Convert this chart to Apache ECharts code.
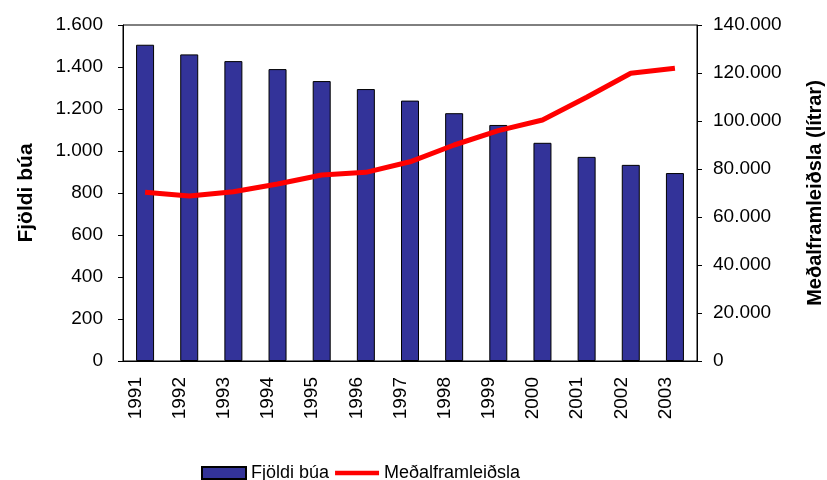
<!DOCTYPE html>
<html>
<head>
<meta charset="utf-8">
<script src="https://cdn.jsdelivr.net/npm/echarts@6/dist/echarts.min.js"></script>
<style>
  html, body { margin: 0; padding: 0; background: #fff; }
  #chart { width: 827px; height: 480px; }
</style>
</head>
<body>
<div id="chart"></div>
<script>
var years = ['1991', '1992', '1993', '1994', '1995', '1996', '1997', '1998', '1999', '2000', '2001', '2002', '2003'];
var fjoldiBua = [1506, 1460, 1428, 1390, 1333, 1295, 1240, 1180, 1124, 1039, 972, 934, 895];
var medalframleidsla = [70300, 68750, 70500, 73750, 77500, 78600, 83000, 90000, 96000, 100400, 109900, 119900, 122000];

// punktur sem þúsundaskil
function fmt(v) {
    return String(v).replace(/\B(?=(\d{3})+(?!\d))/g, '.');
}

var font = 'Liberation Sans, Arial, sans-serif';
var myChart = echarts.init(document.getElementById('chart'));

var option = {
    backgroundColor: '#fff',
    animation: false,
    textStyle: {fontFamily: font, color: '#000'},
    grid: {
        left: 123,
        right: 130,
        top: 25,
        bottom: 119,
        outerBoundsMode: 'none',
        show: true,
        borderColor: '#000',
        borderWidth: 1
    },
    legend: {
        top: 459,
        left: 196,
        itemGap: 6,
        itemWidth: 44,
        itemHeight: 12,
        textStyle: {fontFamily: font, fontSize: 18, color: '#000'},
        data: [
            {name: 'Fjöldi búa', icon: 'rect'},
            {name: 'Meðalframleiðsla', icon: 'path://M0,0H49V5H0Z'}
        ]
    },
    xAxis: {
        type: 'category',
        data: years,
        axisLine: {lineStyle: {color: '#000', width: 1}},
        axisTick: {length: 5, lineStyle: {color: '#000'}},
        axisLabel: {rotate: 90, margin: 16, fontSize: 19, color: '#000', fontFamily: font, verticalAlign: 'bottom'}
    },
    yAxis: [
        {
            type: 'value',
            min: 0,
            max: 1600,
            interval: 200,
            name: 'Fjöldi búa',
            nameLocation: 'middle',
            nameGap: 86,
            nameTextStyle: {fontSize: 21, fontWeight: 'bold', color: '#000', fontFamily: font},
            axisLine: {show: true, lineStyle: {color: '#000'}},
            axisTick: {show: true, length: 5, lineStyle: {color: '#000'}},
            axisLabel: {margin: 20, fontSize: 19, color: '#000', fontFamily: font, formatter: fmt},
            splitLine: {show: false}
        },
        {
            type: 'value',
            min: 0,
            max: 140000,
            interval: 20000,
            name: 'Meðalframleiðsla (lítrar)',
            nameLocation: 'middle',
            nameGap: 108,
            nameTextStyle: {fontSize: 20, fontWeight: 'bold', color: '#000', fontFamily: font},
            axisLine: {show: true, lineStyle: {color: '#000'}},
            axisTick: {show: true, length: 5, lineStyle: {color: '#000'}},
            axisLabel: {margin: 16, fontSize: 19, color: '#000', fontFamily: font, formatter: fmt},
            splitLine: {show: false}
        }
    ],
    series: [
        {
            name: 'Fjöldi búa',
            type: 'bar',
            yAxisIndex: 0,
            barWidth: 18,
            data: fjoldiBua,
            itemStyle: {color: '#333399', borderColor: '#000', borderWidth: 1}
        },
        {
            name: 'Meðalframleiðsla',
            type: 'line',
            yAxisIndex: 1,
            data: medalframleidsla,
            showSymbol: false,
            symbol: 'none',
            lineStyle: {color: '#ff0000', width: 5},
            itemStyle: {color: '#ff0000'}
        }
    ]
};

myChart.setOption(option);
</script>
</body>
</html>
